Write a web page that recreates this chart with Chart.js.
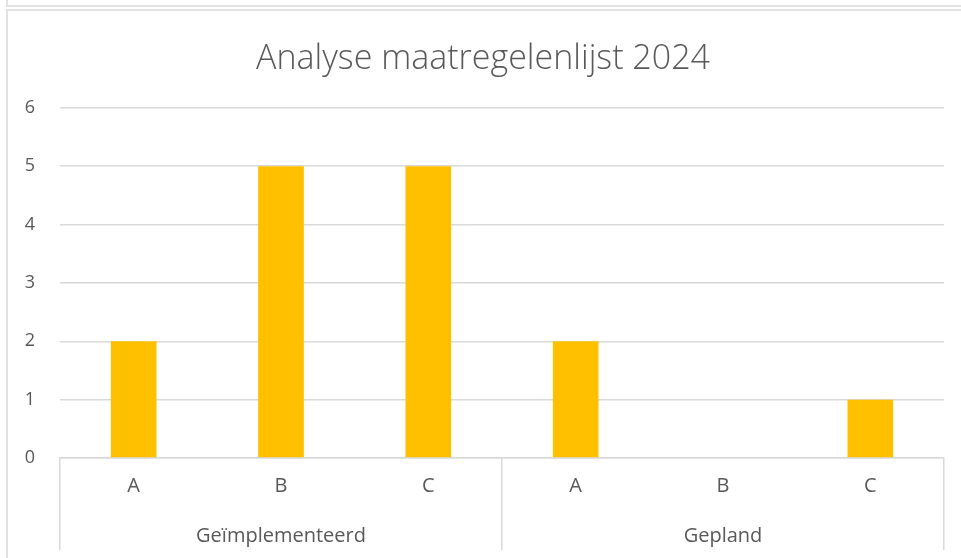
<!DOCTYPE html>
<html lang="nl">
<head>
  <meta charset="UTF-8">
  <title>Analyse maatregelenlijst 2024</title>
  <script src="https://cdn.jsdelivr.net/npm/chart.js"></script>
  <style>
    html, body { margin: 0; padding: 0; background: #fff; }
    #wrap { position: relative; width: 961px; height: 558px; overflow: hidden; }
    .topbox { position: absolute; left: 6px; top: 0; width: 960px; height: 5px;
      border-left: 2px solid #e2e2e2; border-bottom: 2px solid #e2e2e2; }
    .frame { position: absolute; left: 6px; top: 9px; width: 960px; height: 560px;
      border-left: 2px solid #e2e2e2; border-top: 2px solid #e2e2e2; }
    canvas { position: absolute; left: 0; top: 0; }
  </style>
</head>
<body>
  <div id="wrap">
    <div class="topbox"></div>
    <div class="frame"></div>
    <canvas id="chart" width="961" height="558"></canvas>
  </div>

  <script>
    // data
    const categories = ['A', 'B', 'C', 'A', 'B', 'C'];
    const groups = ['Geïmplementeerd', 'Gepland'];
    const counts = [2, 5, 5, 2, 0, 1];

    const textColor = '#595959';
    const lineColor = '#d9d9d9';
    const fontFamily = '"Open Sans", "Noto Sans", sans-serif';

    // separator lines only between the two groups (and at both ends)
    const groupLine = (c) => (c.index === undefined || c.index % 3 === 0 ? lineColor : 'rgba(0,0,0,0)');

    const ctx = document.getElementById('chart').getContext('2d');
    new Chart(ctx, {
      type: 'bar',
      data: {
        labels: categories,
        datasets: [{
          label: 'Aantal',
          data: counts,
          backgroundColor: '#FFC000',
          borderWidth: 0,
          categoryPercentage: 1,
          barPercentage: 0.31
        }]
      },
      options: {
        responsive: false,
        animation: false,
        layout: { padding: { left: 22, right: 17, top: 0, bottom: 8 } },
        plugins: {
          legend: { display: false },
          tooltip: { enabled: false },
          title: {
            display: true,
            text: 'Analyse maatregelenlijst 2024',
            color: textColor,
            font: { family: fontFamily, size: 34, weight: 300 },
            padding: { top: 39, bottom: 28 }
          }
        },
        scales: {
          y: {
            min: 0,
            max: 6,
            ticks: { stepSize: 1, color: textColor, padding: 25,
              font: { family: fontFamily, size: 18 } },
            grid: { color: lineColor, lineWidth: 1.5, drawTicks: false },
            border: { display: false },
            afterFit: (s) => { s.width = 38; }
          },
          x: {
            weight: 0,
            offset: true,
            ticks: { color: textColor, padding: -42, maxRotation: 0, autoSkip: false,
              font: { family: fontFamily, size: 20 } },
            grid: {
              offset: true,
              drawOnChartArea: false,
              tickLength: 58,
              lineWidth: 1.5,
              color: groupLine
            },
            border: { display: true, color: lineColor, width: 1.5 },
            afterFit: (s) => { s.height = 58; }
          },
          x2: {
            type: 'category',
            position: 'bottom',
            weight: 1,
            labels: groups,
            offset: true,
            ticks: { color: textColor, padding: -26, maxRotation: 0, autoSkip: false,
              font: { family: fontFamily, size: 20 } },
            grid: {
              offset: true,
              drawOnChartArea: false,
              tickLength: 34,
              lineWidth: 1.5,
              color: lineColor
            },
            border: { display: false },
            afterFit: (s) => { s.height = 34; }
          }
        }
      }
    });
  </script>
</body>
</html>
